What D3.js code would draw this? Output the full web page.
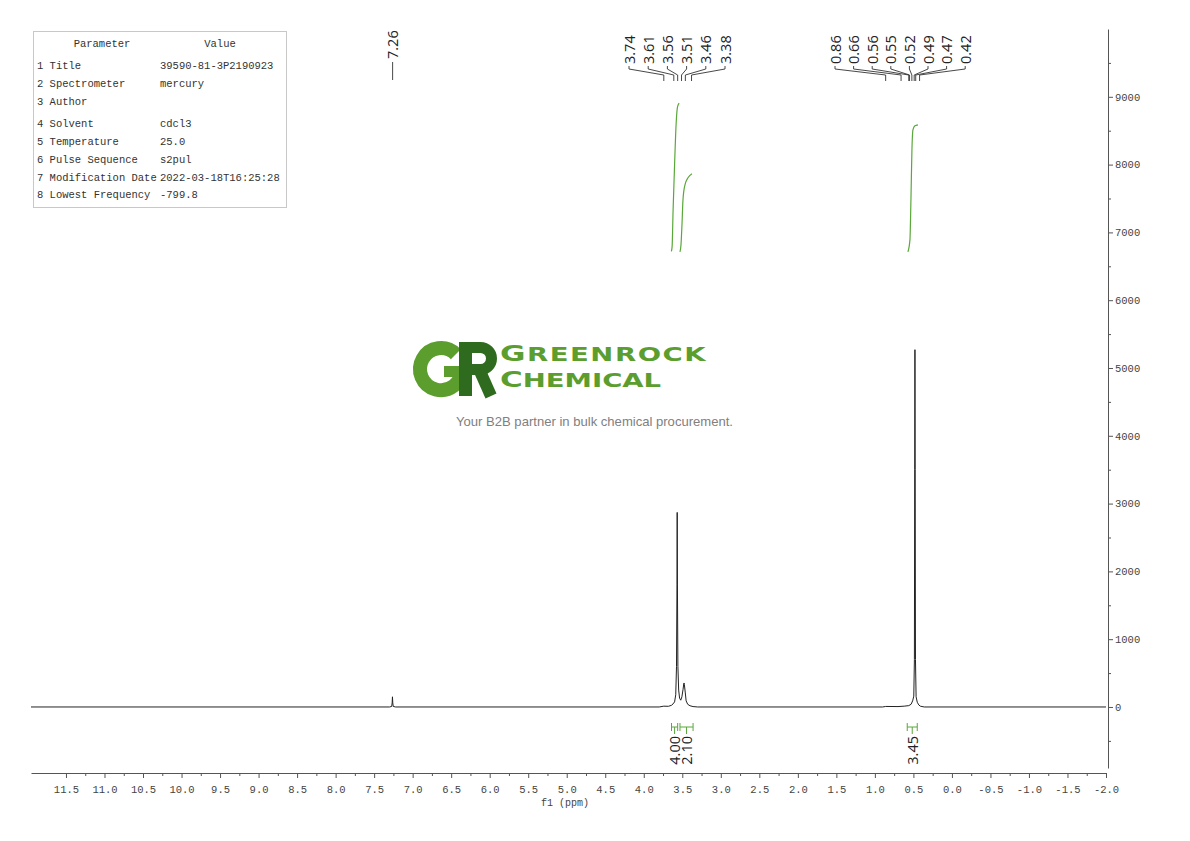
<!DOCTYPE html>
<html>
<head>
<meta charset="utf-8">
<script src="https://cdn.jsdelivr.net/npm/d3@7"></script>
<style>
  body { margin: 0; background: #fff; }
  svg { display: block; }
</style>
</head>
<body>
<div id="chart"></div>
<script>
// spectrum trace (ppm, intensity)
var tracePpm = [11.954, 7.30, 7.272, 7.266, 7.262, 7.258, 7.252, 7.22,
  3.80, 3.74, 3.68, 3.64, 3.62, 3.60, 3.585, 3.575, 3.569, 3.566, 3.563, 3.557, 3.547, 3.535,
  3.52, 3.505, 3.49, 3.481, 3.477, 3.473, 3.462, 3.45, 3.43, 3.40, 3.36, 3.30,
  0.90, 0.86, 0.70, 0.62, 0.56, 0.53, 0.51, 0.495, 0.487, 0.483, 0.480, 0.477, 0.473, 0.465,
  0.45, 0.43, 0.41, 0.36, -2.0];
var traceInt = [0, 0, 8, 60, 150, 60, 8, 0,
  0, 12, 10, 25, 45, 75, 180, 600, 1800, 2870, 1800, 600, 250, 130,
  100, 150, 260, 340, 354, 330, 220, 90, 40, 18, 6, 0,
  0, 8, 6, 12, 20, 40, 90, 160, 700, 3500, 5270, 3500, 700, 150,
  70, 30, 12, 0, 0];

// peak picking labels
var solventPeaks = [7.26];
var groupAPeaks = [3.74, 3.61, 3.56, 3.51, 3.46, 3.38];
var groupBPeaks = [0.86, 0.66, 0.56, 0.55, 0.52, 0.49, 0.47, 0.42];

// integrals: curve points and region / value
var int1Ppm = [3.642, 3.632, 3.62, 3.60, 3.58, 3.565, 3.55, 3.54];
var int1Val = [6720, 6790, 7300, 8000, 8600, 8830, 8890, 8905];
var int2Ppm = [3.530, 3.517, 3.504, 3.491, 3.465, 3.426, 3.374];
var int2Val = [6713, 6816, 7111, 7480, 7702, 7805, 7864];
var int3Ppm = [0.571, 0.545, 0.532, 0.519, 0.506, 0.480, 0.441];
var int3Val = [6713, 6890, 7480, 8218, 8513, 8572, 8587];
var intRegions = [[3.64, 3.56], [3.53, 3.36], [0.58, 0.45]];
var intLabels = ["4.00", "2.10", "3.45"];

// axes
var xTicks = [11.5, 11.0, 10.5, 10.0, 9.5, 9.0, 8.5, 8.0, 7.5, 7.0, 6.5, 6.0, 5.5, 5.0, 4.5,
  4.0, 3.5, 3.0, 2.5, 2.0, 1.5, 1.0, 0.5, 0.0, -0.5, -1.0, -1.5, -2.0];
var yTicks = [0, 1000, 2000, 3000, 4000, 5000, 6000, 7000, 8000, 9000];

// parameter table
var paramNames = ["1 Title", "2 Spectrometer", "3 Author", "4 Solvent", "5 Temperature",
  "6 Pulse Sequence", "7 Modification Date", "8 Lowest Frequency"];
var paramValues = ["39590-81-3P2190923", "mercury", "", "cdcl3", "25.0", "s2pul",
  "2022-03-18T16:25:28", "-799.8"];

var svg = d3.select("#chart").append("svg")
  .attr("width", 1190)
  .attr("height", 841);

var x = d3.scaleLinear().domain([11.954, -2.0]).range([31, 1106]);
var y = d3.scaleLinear().domain([-900, 10000]).range([768, 29]);

var monoFont = "'Liberation Mono', 'DejaVu Sans Mono', monospace";
var sansFont = "'Open Sans', 'Liberation Sans', sans-serif";

// watermark logo
var logo = svg.append("g");
logo.append("path")
  .attr("d", "M455.8 354.2 A21 21 0 1 0 462 369")
  .attr("fill", "none")
  .attr("stroke", "#5b9e2e")
  .attr("stroke-width", 14);
logo.append("rect")
  .attr("x", 444).attr("y", 366).attr("width", 24).attr("height", 11)
  .attr("fill", "#5b9e2e");
logo.append("rect")
  .attr("x", 459).attr("y", 342).attr("width", 13).attr("height", 54)
  .attr("fill", "#2f6b1f");
logo.append("path")
  .attr("d", "M465 347.5 H480.5 A11 11 0 0 1 480.5 369.5 H465")
  .attr("fill", "none")
  .attr("stroke", "#2f6b1f")
  .attr("stroke-width", 11);
logo.append("path")
  .attr("d", "M479 369 L491 396")
  .attr("stroke", "#2f6b1f")
  .attr("stroke-width", 12);

// company name: one text, two lines, stretched sideways
var brand = logo.append("text")
  .attr("transform", "translate(500,0) scale(1.41,1)")
  .style("font-family", "'DejaVu Sans', sans-serif")
  .style("font-weight", "bold")
  .attr("fill", "#5b9e2e");
brand.append("tspan").attr("x", 0).attr("y", 361)
  .style("font-size", "22px").style("letter-spacing", "1.1px").text("G");
brand.append("tspan")
  .style("font-size", "19.5px").style("letter-spacing", "1.1px").text("REENROCK");
brand.append("tspan").attr("x", 0).attr("y", 387)
  .style("font-size", "22px").text("C");
brand.append("tspan")
  .style("font-size", "19.5px").text("HEMICAL");

logo.append("text")
  .attr("x", 456).attr("y", 426)
  .attr("textLength", 277)
  .attr("lengthAdjust", "spacingAndGlyphs")
  .style("font-family", "'Liberation Sans', Arial, sans-serif")
  .style("font-size", "12.8px")
  .attr("fill", "#808080")
  .text("Your B2B partner in bulk chemical procurement.");

// parameter table
var table = svg.append("g");
table.append("rect")
  .attr("x", 33.5).attr("y", 31.5).attr("width", 253).attr("height", 176)
  .attr("fill", "#fff")
  .attr("stroke", "#c8c8c8");
table.append("text").attr("x", 102).attr("y", 47).attr("text-anchor", "middle").text("Parameter");
table.append("text").attr("x", 220).attr("y", 47).attr("text-anchor", "middle").text("Value");
var rowY = [69, 87, 105, 127, 145, 163, 181, 198];
paramNames.forEach(function(name, i) {
  table.append("text").attr("x", 37).attr("y", rowY[i]).text(name);
  table.append("text").attr("x", 160).attr("y", rowY[i]).text(paramValues[i]);
});
table.selectAll("text")
  .style("font-family", monoFont)
  .style("font-size", "10.5px")
  .attr("fill", "#333");

// x axis
svg.append("g")
  .attr("transform", "translate(0,773)")
  .call(d3.axisBottom(x).tickValues(xTicks).tickSize(5).tickSizeOuter(0).tickPadding(8)
    .tickFormat(function(d) { return d.toFixed(1); }));
var xMinor = xTicks.slice(1).map(function(d) { return d + 0.25; });
svg.append("g")
  .attr("transform", "translate(0,773)")
  .call(d3.axisBottom(x).tickValues(xMinor).tickSize(3).tickSizeOuter(0).tickFormat(""))
  .select(".domain").remove();

svg.append("text")
  .attr("x", 565).attr("y", 806)
  .attr("text-anchor", "middle")
  .style("font-family", monoFont)
  .style("font-size", "10px")
  .attr("fill", "#444")
  .text("f1 (ppm)");

// y axis on the right
svg.append("g")
  .attr("transform", "translate(1108,0)")
  .call(d3.axisRight(y).tickValues(yTicks).tickSize(5).tickSizeOuter(0).tickPadding(2)
    .tickFormat(function(d) { return d; }));
var yMinor = yTicks.map(function(d) { return d + 500; }).concat([-500]);
svg.append("g")
  .attr("transform", "translate(1108,0)")
  .call(d3.axisRight(y).tickValues(yMinor).tickSize(3).tickSizeOuter(0).tickFormat(""))
  .select(".domain").remove();

svg.selectAll(".tick text")
  .style("font-family", monoFont)
  .style("font-size", "10.5px")
  .attr("fill", "#444");
svg.selectAll(".domain, .tick line").attr("stroke", "#555");

// spectrum trace
var trace = tracePpm.map(function(p, i) { return [p, traceInt[i]]; });
svg.append("path")
  .datum(trace)
  .attr("fill", "none")
  .attr("stroke", "#222")
  .attr("stroke-width", 1)
  .attr("d", d3.line().x(function(d) { return x(d[0]); }).y(function(d) { return y(d[1]); }));

// integral curves
var intLine = d3.line().curve(d3.curveMonotoneX)
  .x(function(d) { return x(d[0]); })
  .y(function(d) { return y(d[1]); });
[[int1Ppm, int1Val], [int2Ppm, int2Val], [int3Ppm, int3Val]].forEach(function(c) {
  var pts = c[0].map(function(p, i) { return [p, c[1][i]]; }).reverse();
  svg.append("path")
    .datum(pts)
    .attr("fill", "none")
    .attr("stroke", "#5aa83a")
    .attr("stroke-width", 1.2)
    .attr("d", intLine);
});

// integral brackets and values under the baseline
intRegions.forEach(function(r, i) {
  var x1 = x(r[0]), x2 = x(r[1]), cx = (x1 + x2) / 2;
  svg.append("path")
    .attr("d", "M" + x1 + " 727 H" + x2 + " M" + x1 + " 723 V731 M" + x2 + " 723 V731 M" + cx + " 727 V734")
    .attr("fill", "none")
    .attr("stroke", "#5aa83a")
    .attr("stroke-width", 1);
  svg.append("text")
    .attr("transform", "translate(" + (cx + 5.5) + ",736) rotate(-90)")
    .attr("text-anchor", "end")
    .style("font-family", sansFont)
    .style("font-size", "14.5px")
    .attr("fill", "#222")
    .text(intLabels[i]);
});

// peak labels at the top
function peakLabels(peaks, startX, step) {
  peaks.forEach(function(p, i) {
    var lx = startX + i * step, px = x(p);
    svg.append("path")
      .attr("d", "M" + lx + " 66 V69 L" + px + " 75 V81")
      .attr("fill", "none")
      .attr("stroke", "#333")
      .attr("stroke-width", 0.9);
    svg.append("text")
      .attr("transform", "translate(" + (lx + 5.5) + ",64) rotate(-90)")
      .style("font-family", sansFont)
      .style("font-size", "14.5px")
      .attr("fill", "#222")
      .text(p.toFixed(2));
  });
}
peakLabels(groupAPeaks, 629, 19.2);
peakLabels(groupBPeaks, 835, 18.6);

solventPeaks.forEach(function(p) {
  var px = x(p);
  svg.append("path")
    .attr("d", "M" + px + " 62 V80")
    .attr("stroke", "#333")
    .attr("stroke-width", 0.9);
  svg.append("text")
    .attr("transform", "translate(" + (px + 5.5) + ",59) rotate(-90)")
    .style("font-family", sansFont)
    .style("font-size", "14.5px")
    .attr("fill", "#222")
    .text(p.toFixed(2));
});
</script>
</body>
</html>
